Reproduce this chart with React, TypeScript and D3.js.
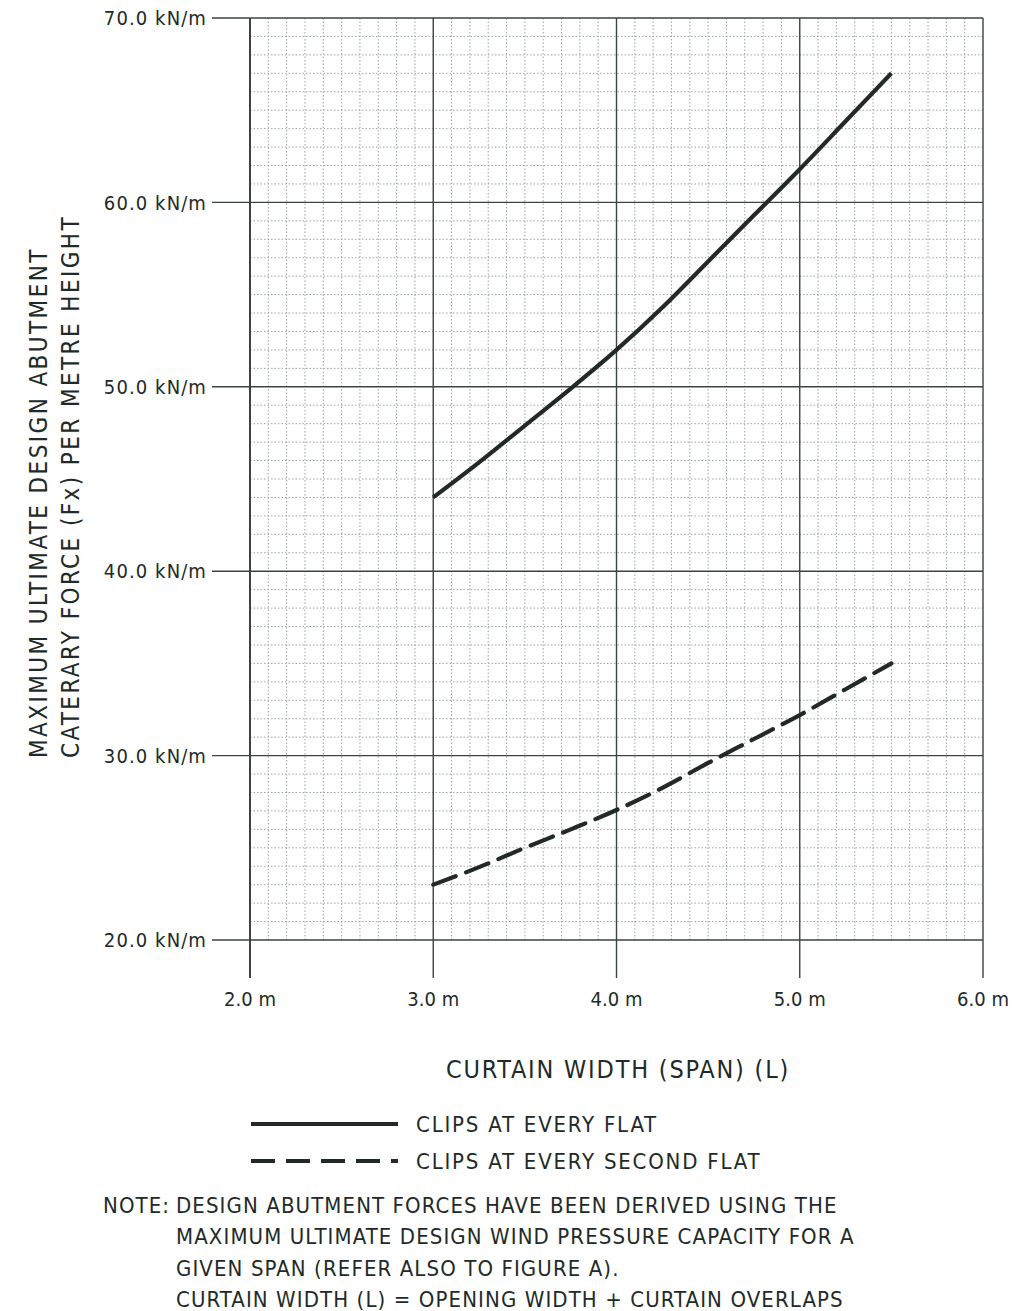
import * as d3 from "d3";
import { useEffect, useRef } from "react";

// span (m)
const spans = [3.0, 3.25, 3.5, 3.75, 4.0, 4.25, 4.5, 4.75, 5.0, 5.25, 5.5];
// clips at every flat (kN/m)
const everyFlat = [44.0, 45.9, 47.9, 49.9, 52.0, 54.3, 56.8, 59.3, 61.8, 64.4, 67.0];
// clips at every second flat (kN/m)
const everySecondFlat = [23.0, 23.95, 25.0, 26.0, 27.05, 28.25, 29.6, 30.9, 32.2, 33.6, 35.0];

const xMajor = [2, 3, 4, 5, 6];
const yMajor = [20, 30, 40, 50, 60, 70];

const legendItems = [
  { label: "CLIPS AT EVERY FLAT", dash: null },
  { label: "CLIPS AT EVERY SECOND FLAT", dash: "24 11" },
];

const noteLines = [
  "DESIGN ABUTMENT FORCES HAVE BEEN DERIVED USING THE",
  "MAXIMUM ULTIMATE DESIGN WIND PRESSURE CAPACITY FOR A",
  "GIVEN SPAN (REFER ALSO TO FIGURE A).",
  "CURTAIN WIDTH (L) = OPENING WIDTH + CURTAIN OVERLAPS",
];

const FONT = "'DejaVu Sans Condensed', 'Open Sans', sans-serif";
const INK = "#222a28";

const App = () => {
  const svgRef = useRef<SVGSVGElement>(null);

  useEffect(() => {
    const width = 1015;
    const height = 1311;
    const left = 250;
    const right = 983;
    const top = 18;
    const bottom = 940;

    const svg = d3.select(svgRef.current);
    svg.selectAll("*").remove();
    svg.attr("width", width).attr("height", height);

    const x = d3.scaleLinear().domain([2, 6]).range([left, right]);
    const y = d3.scaleLinear().domain([20, 70]).range([bottom, top]);

    // minor grid
    const g = svg.append("g");
    g.selectAll("line.mx")
      .data(x.ticks(40).filter((t) => Math.abs(t - Math.round(t)) > 1e-6))
      .join("line")
      .attr("x1", (d) => x(d))
      .attr("x2", (d) => x(d))
      .attr("y1", top)
      .attr("y2", bottom)
      .attr("stroke", "#9aa4a4")
      .attr("stroke-width", 1)
      .attr("stroke-dasharray", "1.5 2");
    g.selectAll("line.my")
      .data(y.ticks(50).filter((t) => t % 10 !== 0))
      .join("line")
      .attr("x1", left)
      .attr("x2", right)
      .attr("y1", (d) => y(d))
      .attr("y2", (d) => y(d))
      .attr("stroke", "#9aa4a4")
      .attr("stroke-width", 1)
      .attr("stroke-dasharray", "1.5 2");

    // major grid + ticks
    g.selectAll("line.Mx")
      .data(xMajor)
      .join("line")
      .attr("x1", (d) => x(d))
      .attr("x2", (d) => x(d))
      .attr("y1", top)
      .attr("y2", 978)
      .attr("stroke", "#3a4442")
      .attr("stroke-width", (d) => (d === 2 ? 2 : 1.4));
    g.selectAll("line.My")
      .data(yMajor)
      .join("line")
      .attr("x1", 212)
      .attr("x2", right)
      .attr("y1", (d) => y(d))
      .attr("y2", (d) => y(d))
      .attr("stroke", "#3a4442")
      .attr("stroke-width", 1.4);

    // tick labels
    svg.append("g")
      .selectAll("text")
      .data(yMajor)
      .join("text")
      .attr("x", 207)
      .attr("y", (d) => y(d))
      .attr("dy", "0.36em")
      .attr("text-anchor", "end")
      .attr("font-family", FONT)
      .attr("font-size", 20)
      .attr("letter-spacing", 1.1)
      .attr("fill", INK)
      .text((d) => `${d3.format(".1f")(d)} kN/m`);
    svg.append("g")
      .selectAll("text")
      .data(xMajor)
      .join("text")
      .attr("x", (d) => x(d))
      .attr("y", 1006)
      .attr("text-anchor", "middle")
      .attr("font-family", FONT)
      .attr("font-size", 20)
      .attr("fill", INK)
      .text((d) => `${d3.format(".1f")(d)} m`);

    // curves
    const line = d3
      .line<number>()
      .x((_, i) => x(spans[i]))
      .y((d) => y(d))
      .curve(d3.curveMonotoneX);
    svg.append("path")
      .attr("d", line(everyFlat))
      .attr("fill", "none")
      .attr("stroke", INK)
      .attr("stroke-width", 4.2);
    svg.append("path")
      .attr("d", line(everySecondFlat))
      .attr("fill", "none")
      .attr("stroke", INK)
      .attr("stroke-width", 4.2)
      .attr("stroke-linecap", "round")
      .attr("stroke-dasharray", "24 11");

    // axis titles
    svg.append("text")
      .attr("x", 618)
      .attr("y", 1078)
      .attr("text-anchor", "middle")
      .attr("font-family", FONT)
      .attr("font-size", 25)
      .attr("letter-spacing", 1.8)
      .attr("fill", INK)
      .text("CURTAIN WIDTH (SPAN) (L)");
    const yt = svg.append("text")
      .attr("transform", "translate(0,758) rotate(-90)")
      .attr("font-family", FONT)
      .attr("font-size", 24)
      .attr("letter-spacing", 2.4)
      .attr("fill", INK);
    yt.append("tspan").attr("x", 0).attr("y", 47).text("MAXIMUM ULTIMATE DESIGN ABUTMENT");
    yt.append("tspan").attr("x", 0).attr("y", 79).text("CATERARY FORCE (Fx) PER METRE HEIGHT");

    // legend
    const lg = svg.append("g")
      .selectAll("g")
      .data(legendItems)
      .join("g")
      .attr("transform", (_, i) => `translate(0,${1124 + i * 37})`);
    lg.append("line")
      .attr("x1", 251)
      .attr("x2", 398)
      .attr("stroke", INK)
      .attr("stroke-width", 4)
      .attr("stroke-dasharray", (d) => d.dash);
    lg.append("text")
      .attr("x", 416)
      .attr("dy", "0.36em")
      .attr("font-family", FONT)
      .attr("font-size", 22)
      .attr("letter-spacing", 1.8)
      .attr("fill", INK)
      .text((d) => d.label);

    // note
    const nt = svg.append("g")
      .attr("font-family", FONT)
      .attr("font-size", 22)
      .attr("letter-spacing", 1.1)
      .attr("fill", INK);
    nt.append("text").attr("x", 103).attr("y", 1213).text("NOTE:");
    nt.selectAll("text.l")
      .data(noteLines)
      .join("text")
      .attr("x", 176)
      .attr("y", (_, i) => 1213 + i * 31.4)
      .text((d) => d);
  }, []);

  return (
    <svg
      ref={svgRef}
      style={{ position: "absolute", left: 0, top: 0, background: "#fff" }}
    />
  );
};

export default App;
